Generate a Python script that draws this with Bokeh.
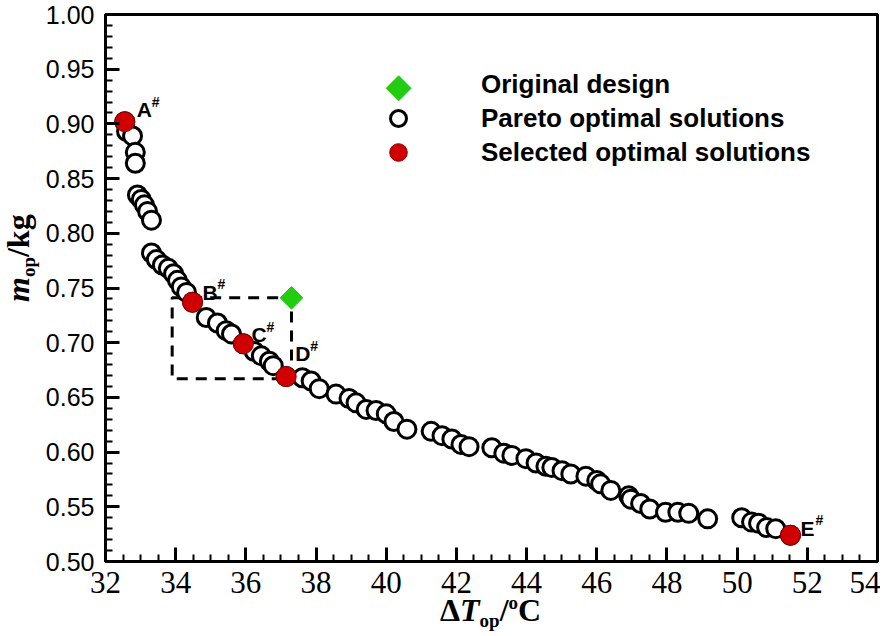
import math
from bokeh.plotting import figure
from bokeh.models import (Range1d, SingleIntervalTicker, NumeralTickFormatter,
                          Label, Legend, LegendItem, Div)
from bokeh.layouts import row, column
from bokeh.embed import file_html
from bokeh.resources import INLINE

# ---------------- data ----------------
pareto_x = [32.55, 32.60, 32.77, 32.85, 32.85, 32.91, 33.02, 33.11, 33.20, 33.31,
            33.31, 33.45, 33.62, 33.79, 33.94, 34.05, 34.16, 34.31, 34.48, 34.87,
            35.19, 35.44, 35.59, 35.93, 36.24, 36.44, 36.67, 36.78, 37.15, 37.61,
            37.86, 38.09, 38.57, 38.94, 39.14, 39.43, 39.71, 40.00, 40.22, 40.59,
            41.28, 41.59, 41.87, 42.13, 42.36, 43.01, 43.35, 43.58, 43.98, 44.27,
            44.55, 44.72, 45.01, 45.26, 45.69, 46.00, 46.11, 46.40, 46.91, 46.97,
            47.25, 47.51, 47.96, 48.31, 48.62, 49.16, 50.13, 50.41, 50.61, 50.84,
            51.10, 51.52]
pareto_y = [0.902, 0.893, 0.889, 0.874, 0.864, 0.835, 0.831, 0.826, 0.820, 0.812,
            0.782, 0.776, 0.771, 0.768, 0.763, 0.757, 0.751, 0.746, 0.737, 0.723,
            0.718, 0.711, 0.708, 0.699, 0.692, 0.688, 0.683, 0.679, 0.669, 0.668,
            0.665, 0.658, 0.653, 0.649, 0.645, 0.639, 0.638, 0.635, 0.628, 0.621,
            0.619, 0.615, 0.612, 0.607, 0.605, 0.604, 0.599, 0.597, 0.594, 0.590,
            0.587, 0.586, 0.583, 0.580, 0.578, 0.574, 0.571, 0.565, 0.560, 0.557,
            0.553, 0.548, 0.545, 0.545, 0.544, 0.539, 0.540, 0.536, 0.535, 0.531,
            0.530, 0.524]
assert len(pareto_x) == len(pareto_y)

selected_names = ["A", "B", "C", "D", "E"]
selected_x = [32.55, 34.48, 35.93, 37.15, 51.52]
selected_y = [0.902, 0.737, 0.699, 0.669, 0.524]

original_x = [37.3]
original_y = [0.741]

# box spanned by the original design and the Pareto front
box_left, box_right = [33.9], [37.3]
box_bottom, box_top = [0.667], [0.741]

legend_labels = ["Original design", "Pareto optimal solutions", "Selected optimal solutions"]

x_start, x_end, x_step = 32, 54, 2
y_start, y_end, y_step = 0.5, 1.0, 0.05

# ---------------- figure ----------------
YLAB_W = 40
FIG_H = 608
p = figure(width=880 - YLAB_W, height=FIG_H, output_backend="svg", toolbar_location=None,
           x_range=Range1d(x_start, x_end), y_range=Range1d(y_start, y_end),
           min_border_left=65, min_border_right=3, min_border_top=14,
           min_border_bottom=47, background_fill_color="white",
           border_fill_color="white")
p.xgrid.visible = False
p.ygrid.visible = False
p.outline_line_color = "black"
p.outline_line_width = 3
p.outline_line_alpha = 1.0

p.xaxis.ticker = SingleIntervalTicker(interval=x_step, num_minor_ticks=4)
p.yaxis.ticker = SingleIntervalTicker(interval=y_step, num_minor_ticks=5)
p.yaxis.formatter = NumeralTickFormatter(format="0.00")

for ax in (p.xaxis[0], p.yaxis[0]):
    ax.axis_line_width = 3
    ax.axis_line_color = "black"
    ax.major_tick_line_width = 3
    ax.minor_tick_line_width = 2
    ax.major_tick_line_color = "black"
    ax.minor_tick_line_color = "black"
    ax.major_tick_in = 14
    ax.major_tick_out = 0
    ax.minor_tick_in = 7
    ax.minor_tick_out = 0
    ax.major_label_text_color = "black"

p.xaxis.major_label_text_font = "Liberation Sans Narrow"
p.xaxis.major_label_text_font_size = "31px"
p.xaxis.major_label_standoff = 10
p.yaxis.major_label_text_font = "Liberation Sans"
p.yaxis.major_label_text_font_size = "25px"
p.yaxis.major_label_standoff = 11

# dashed box
p.quad(left=box_left, right=box_right, bottom=box_bottom, top=box_top,
       fill_color=None, line_color="black", line_width=3, line_dash="11 8")

GREEN = "#22CC11"
r_orig = p.scatter(original_x, original_y, marker="square", angle=math.pi / 4,
                   size=16, fill_color=GREEN, line_color=GREEN, line_width=1)
r_par = p.scatter(pareto_x, pareto_y, marker="circle", size=18,
                  fill_color="white", line_color="black", line_width=3)
r_sel = p.scatter(selected_x, selected_y, marker="circle", size=20,
                  fill_color="#D10000", line_color="#8A0000", line_width=1)

# ---- legend: one Legend per row so rows can sit close together ----
leg_common = dict(padding=0, margin=0, spacing=0, border_line_color=None,
                  background_fill_alpha=0.0, label_text_font="Liberation Sans",
                  label_text_font_style="bold", label_text_font_size="26px",
                  label_text_color="black")
p.add_layout(Legend(items=[LegendItem(label=legend_labels[0], renderers=[r_orig])],
                    location=(273, 457), glyph_width=40, glyph_height=20,
                    label_height=40, label_standoff=63, **leg_common))
p.add_layout(Legend(items=[LegendItem(label=legend_labels[1], renderers=[r_par])],
                    location=(273, 423), glyph_width=40, glyph_height=40,
                    label_height=40, label_standoff=63, **leg_common))
p.add_layout(Legend(items=[LegendItem(label=legend_labels[2], renderers=[r_sel])],
                    location=(271, 387), glyph_width=44, glyph_height=44,
                    label_height=44, label_standoff=61, **leg_common))
# diamond swatch for the "Original design" row (legend draws markers unrotated)
p.add_layout(Label(x=x_start, y=y_end, x_offset=293, y_offset=-70, text="\u25C6",
                   text_font="DejaVu Sans", text_font_size="34px", text_color=GREEN,
                   text_align="center", text_baseline="middle"))

# point labels A#..E#
lbl_dx = [12, 10, 8, 9, 10]
lbl_dy = [12, 10, 9, 23, 7]
for name, xv, yv, dx, dy in zip(selected_names, selected_x, selected_y, lbl_dx, lbl_dy):
    p.add_layout(Label(x=xv, y=yv, x_offset=dx, y_offset=dy, text=name,
                       text_font="Liberation Sans", text_font_style="bold",
                       text_font_size="21px", text_baseline="alphabetic",
                       text_color="black"))
    p.add_layout(Label(x=xv, y=yv, x_offset=dx + 15, y_offset=dy + 8, text="#",
                       text_font="Liberation Sans", text_font_style="bold",
                       text_font_size="14px", text_baseline="alphabetic",
                       text_color="black"))

# ---- axis titles as HTML (sub/superscripts) ----
font_css = ("font-family:'Liberation Serif'; font-weight:bold; font-size:32px; "
            "line-height:32px; white-space:nowrap; color:black;")
sub_css = "font-size:19px; position:relative; top:6px;"
sup_css = "font-size:19px; position:relative; top:-12px;"

ylab = Div(width=YLAB_W, height=FIG_H, margin=(0, 0, 0, 0),
           styles={"overflow": "visible"},
           text=('<div style="width:150px; transform-origin:0 0; '
                 'transform: translate(2px, 302px) rotate(-90deg); ' + font_css + '">'
                 '<i>m</i><span style="' + sub_css + '">op</span>/kg</div>'))
xlab = Div(width=880, height=620 - FIG_H, margin=(0, 0, 0, 0),
           styles={"overflow": "visible"},
           text=('<div style="width:200px; transform: translate(440px, -14px); '
                 + font_css + '">\u0394<i>T</i><span style="' + sub_css + '">op</span>/'
                 '<span style="' + sup_css + '">o</span>C</div>'))

layout = column(row(ylab, p, spacing=0), xlab, spacing=0)

open("out.html", "w").write(file_html(layout, INLINE))
